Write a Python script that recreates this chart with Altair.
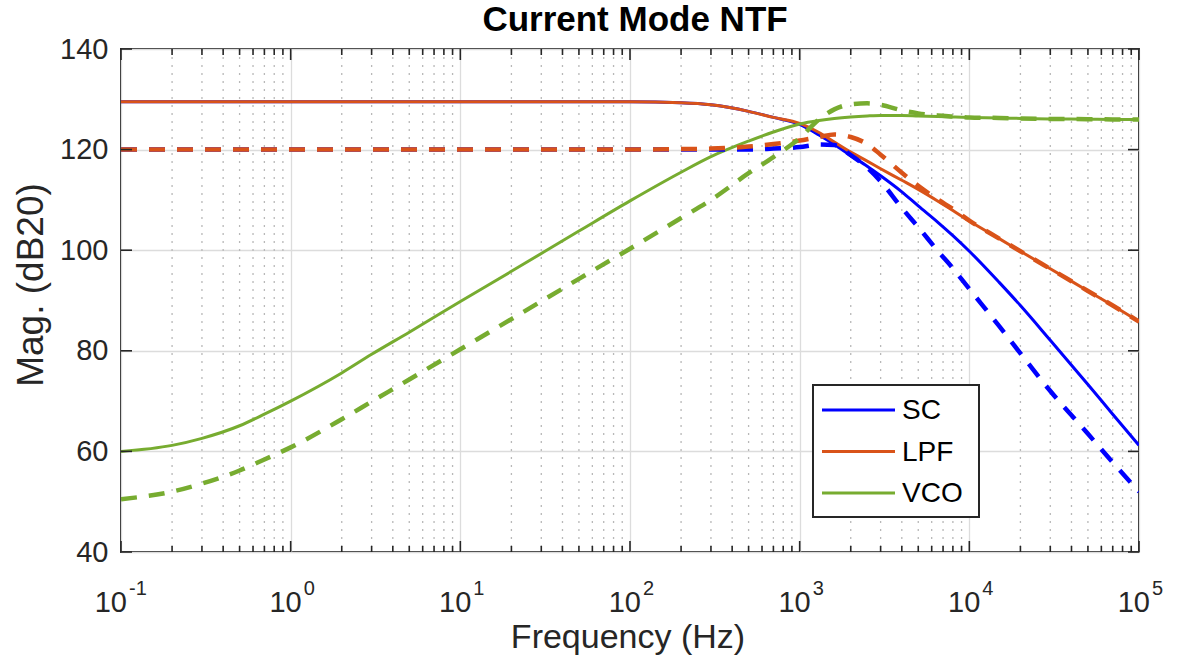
import altair as alt
import pandas as pd

# ---------------- data ----------------
FREQ = [0.1, 0.2, 0.3, 0.5, 0.7, 1, 2, 3, 5, 10, 20, 50, 100, 200, 300, 500, 700,
        1000, 1300, 1600, 2000, 2500, 3000, 4000, 5000, 6500, 8000, 10000,
        15000, 20000, 30000, 50000, 70000, 100000]

SC_SOLID = [129.5] * 13 + [129.3, 128.9, 127.6, 126.4,
            125.0, 122.9, 121.0, 118.8, 116.7, 114.8, 111.6, 108.8, 105.6, 102.9, 99.8,
            93.6, 89.0, 82.1, 73.3, 67.4, 61.2]
SC_DASH = [120.0] * 16 + [120.2,
           120.5, 121.0, 120.9, 118.9, 116.4, 113.7, 108.4, 104.6, 99.9, 96.4, 92.3,
           84.9, 79.5, 72.0, 63.5, 57.8, 52.0]
LPF_SOLID = [129.5] * 13 + [129.3, 128.9, 127.6, 126.4,
             125.2, 123.4, 121.5, 119.5, 117.7, 116.2, 113.9, 112.1, 109.8, 107.9, 105.8,
             102.3, 99.8, 96.3, 91.9, 89.0, 85.8]
LPF_DASH = [120.0] * 13 + [120.1, 120.2, 120.6, 121.1,
            121.8, 122.5, 123.0, 122.5, 121.1, 119.0, 115.4, 112.8, 110.1, 108.2, 105.9,
            102.3, 99.8, 96.3, 91.9, 89.0, 85.8]
VCO_SOLID = [60.0, 61.2, 62.6, 65.1, 67.4, 70.0, 75.6, 79.3, 83.7, 89.8, 95.8, 103.8,
             109.8, 115.5, 118.6, 121.7, 123.5, 125.1, 125.8, 126.2, 126.5, 126.7, 126.8,
             126.8, 126.7, 126.6, 126.5, 126.4, 126.3, 126.2, 126.1, 126.05, 126.0, 126.0]
VCO_DASH = [50.5, 52.0, 53.6, 56.2, 58.4, 60.8, 66.4, 69.9, 74.3, 80.3, 86.3, 94.3,
            100.3, 106.4, 110.0, 115.3, 118.5, 122.3, 126.0, 128.0, 129.0, 129.2, 128.9,
            127.8, 127.2, 126.8, 126.6, 126.4, 126.3, 126.2, 126.1, 126.05, 126.0, 126.0]

SERIES = ["SC", "LPF", "VCO"]
COLORS = ["#0000FF", "#D95319", "#77AC30"]

DECADES = [0.1, 1, 10, 100, 1000, 10000, 100000]
EXPONENTS = ["-1", "0", "1", "2", "3", "4", "5"]
Y_TICKS = [40, 60, 80, 100, 120, 140]
MINOR = [m * d for d in DECADES[:-1] for m in range(2, 10)]

TITLE = "Current Mode NTF"
X_TITLE = "Frequency (Hz)"
Y_TITLE = "Mag. (dB20)"

# ---------------- layout ----------------
W, H = 1018, 503
FONT = "Liberation Sans"
INK = "#262626"
GRID = "#dcdcdc"

xs = alt.Scale(type="log", domain=[0.1, 100000], nice=False)
ys = alt.Scale(domain=[40, 140], nice=False, zero=False)

x_axis = alt.Axis(values=DECADES, grid=True, gridColor=GRID, gridWidth=1.3,
                  labels=False, ticks=False, domain=False, title=None)
y_axis = alt.Axis(values=Y_TICKS, grid=True, gridColor=GRID, gridWidth=1.3,
                  labelFont=FONT, labelFontSize=29, labelColor=INK, labelPadding=13,
                  ticks=False, domain=False, title=None)


def xenc(field="f:Q"):
    return alt.X(field, scale=xs, axis=x_axis)


def yenc(field="mag:Q"):
    return alt.Y(field, scale=ys, axis=y_axis)


minor_df = pd.DataFrame({"f": MINOR})
dec_df = pd.DataFrame({"f": DECADES, "exp": EXPONENTS})
yt_df = pd.DataFrame({"v": Y_TICKS})
one = pd.DataFrame({"k": [0]})

layers = []

# minor dotted grid
layers.append(alt.Chart(minor_df).mark_rule(strokeDash=[2, 6], color="#b8b8b8", strokeWidth=1.3)
              .encode(x=xenc()))


def line_df(vals, name):
    return pd.DataFrame({"f": FREQ, "mag": vals, "series": name})


for vals, name, col, dashed in [
    (SC_SOLID, "SC", COLORS[0], False),
    (LPF_SOLID, "LPF", COLORS[1], False),
    (VCO_SOLID, "VCO", COLORS[2], False),
    (SC_DASH, "SC", COLORS[0], True),
    (LPF_DASH, "LPF", COLORS[1], True),
    (VCO_DASH, "VCO", COLORS[2], True),
]:
    if dashed:
        mk = alt.Chart(line_df(vals, name)).mark_line(
            color=col, strokeWidth=4.5, strokeDash=[16, 12], clip=True, interpolate="monotone")
    else:
        mk = alt.Chart(line_df(vals, name)).mark_line(
            color=col, strokeWidth=3, clip=True, interpolate="monotone")
    layers.append(mk.encode(x=xenc(), y=yenc()))

# inward ticks (box style)
def xticks(df, length):
    base = alt.Chart(df).mark_rule(color=INK, strokeWidth=1.6)
    return [
        base.encode(x=xenc(), y=alt.value(H), y2=alt.value(H - length)),
        base.encode(x=xenc(), y=alt.value(0), y2=alt.value(length)),
    ]


layers += xticks(dec_df, 11)
layers += xticks(minor_df, 6)
ybase = alt.Chart(yt_df).mark_rule(color=INK, strokeWidth=1.6)
layers.append(ybase.encode(y=yenc("v:Q"), x=alt.value(0), x2=alt.value(11)))
layers.append(ybase.encode(y=yenc("v:Q"), x=alt.value(W), x2=alt.value(W - 11)))

# x tick labels: 10 with superscript exponent
lab = alt.Chart(dec_df)
layers.append(lab.transform_filter("datum.f < 0.5").mark_text(
    text="10", align="right", baseline="middle", dx=6, font=FONT, fontSize=29, color=INK)
    .encode(x=xenc(), y=alt.value(H + 51)))
layers.append(lab.transform_filter("datum.f < 0.5").mark_text(
    align="left", baseline="middle", dx=8, font=FONT, fontSize=20, color=INK)
    .encode(x=xenc(), y=alt.value(H + 37), text="exp:N"))
layers.append(lab.transform_filter("datum.f > 0.5").mark_text(
    text="10", align="right", baseline="middle", dx=11, font=FONT, fontSize=29, color=INK)
    .encode(x=xenc(), y=alt.value(H + 51)))
layers.append(lab.transform_filter("datum.f > 0.5").mark_text(
    align="left", baseline="middle", dx=13, font=FONT, fontSize=20, color=INK)
    .encode(x=xenc(), y=alt.value(H + 37), text="exp:N"))

# titles
layers.append(alt.Chart(one).mark_text(text=TITLE, font=FONT, fontSize=35, fontWeight="bold",
                                       color="black", align="center", baseline="middle")
              .encode(x=alt.value(W / 2 + 5), y=alt.value(-29)))
layers.append(alt.Chart(one).mark_text(text=X_TITLE, font=FONT, fontSize=34, color=INK,
                                       align="center", baseline="middle")
              .encode(x=alt.value(W / 2 - 2), y=alt.value(H + 86)))
layers.append(alt.Chart(one).mark_text(text=Y_TITLE, font=FONT, fontSize=37, color=INK,
                                       align="center", baseline="middle", angle=270)
              .encode(x=alt.value(-89), y=alt.value(236)))

# legend (drawn inside the axes, MATLAB style)
LX, LY, LW, LH = 692, 336, 166, 132
layers.append(alt.Chart(one).mark_rect(fill="white", stroke=INK, strokeWidth=2)
              .encode(x=alt.value(LX), x2=alt.value(LX + LW), y=alt.value(LY), y2=alt.value(LY + LH)))
for i, (name, col) in enumerate(zip(SERIES, COLORS)):
    ry = LY + 25 + 41.5 * i
    layers.append(alt.Chart(one).mark_rule(color=col, strokeWidth=3)
                  .encode(x=alt.value(LX + 9), x2=alt.value(LX + 82), y=alt.value(ry)))
    layers.append(alt.Chart(one).mark_text(text=name, font=FONT, fontSize=28, color="black",
                                           align="left", baseline="middle")
                  .encode(x=alt.value(LX + 89), y=alt.value(ry + 1)))

chart = alt.layer(*layers).properties(
    width=W, height=H,
    autosize=alt.AutoSizeParams(type="none"),
    padding={"left": 121, "top": 49, "right": 47, "bottom": 117},
    background="white",
).configure_view(stroke=INK, strokeWidth=2)

chart.save("out.html", embed_options={"renderer": "svg", "actions": False})
